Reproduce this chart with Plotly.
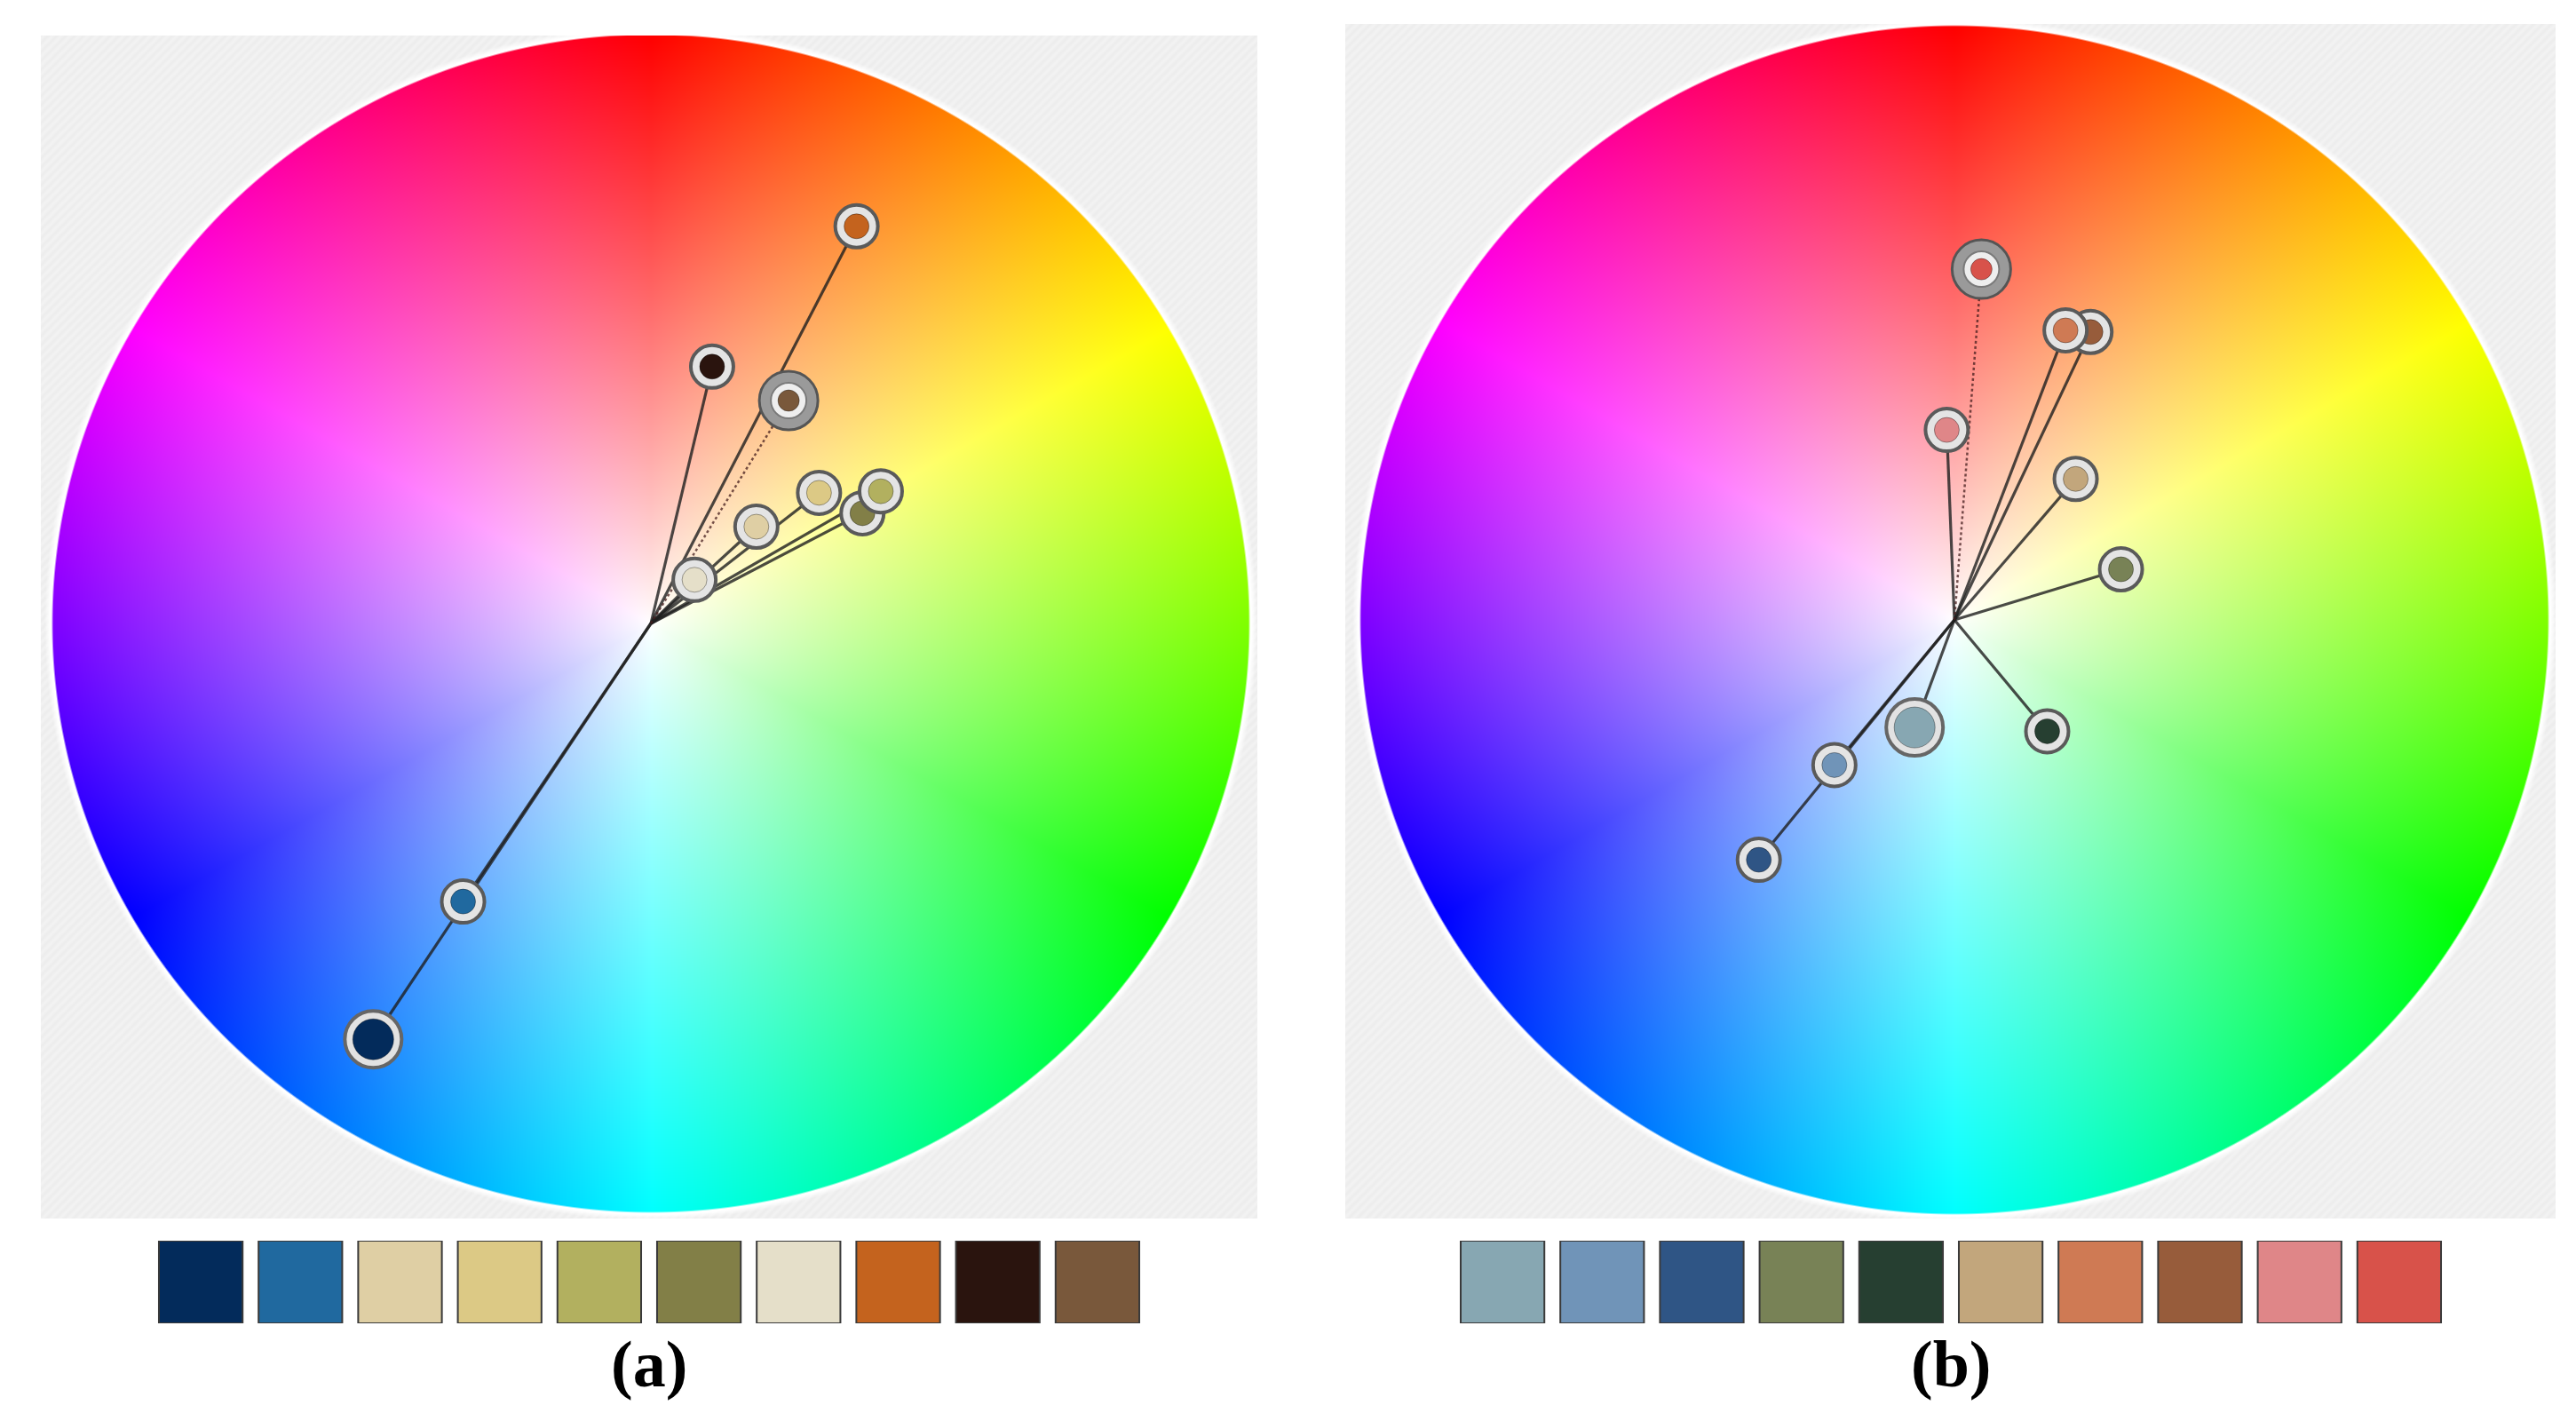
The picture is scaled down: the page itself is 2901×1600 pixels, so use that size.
import base64
import struct
import zlib

import numpy as np
import plotly.graph_objects as go

# ---------------- data ----------------
# hue = angle clockwise from the top (deg), sat = distance from centre (wheel radius = 1)

# panel (a)
colors_a = ['#032b5b', '#20699f', '#dfcfa4', '#dcc985', '#b2b05f',
            '#827f47', '#e5dfc9', '#c4631e', '#2a140e', '#79583b']
hue_a = [213.3, 213.6, 47.0, 51.7, 59.7, 62.1, 44.5, 27.0, 13.2, 31.3]
sat_a = [0.845, 0.567, 0.241, 0.358, 0.445, 0.400, 0.104, 0.757, 0.448, 0.443]

# panel (b)
colors_b = ['#87a7b2', '#7094b8', '#2f5585', '#788256', '#263f31',
            '#c2a67c', '#cf7a54', '#975c3b', '#df8688', '#d8524a']
hue_b = [200.3, 219.6, 219.2, 73.1, 140.2, 40.7, 21.0, 25.3, 357.7, 4.4]
sat_b = [0.193, 0.317, 0.521, 0.293, 0.244, 0.313, 0.522, 0.536, 0.320, 0.592]

labels = ['(a)', '(b)']

# which point gets the dotted spoke, and which markers are drawn big
dotted = [9, 9]
big = [{0: 'solid', 9: 'ring'}, {0: 'solid', 9: 'ring'}]

# the page body has an 8px margin, so the figure is drawn 8px in from the corner
OFF = 8
W, H = 2901 - 2 * OFF, 1600 - 2 * OFF

# pixel geometry (page pixels) of the two panels: gray box, wheel centre and radii, swatch row centre
panels = [
    dict(box=(46, 40, 1416, 1372), center=(733, 702), rx=674, ry=663, cx=731),
    dict(box=(1515, 27, 2878, 1372), center=(2201, 698), rx=669, ry=669, cx=2197),
]
swatch_top, swatch_bottom, swatch_pitch = 1397, 1490, 112.2


def fx(p):
    return (p - OFF) / W


def fy(p):
    return 1 - (p - OFF) / H


######################## wheel picture ########################

def png_uri(rgb):
    h, w, _ = rgb.shape
    raw = rgb.astype(np.int16)
    up = raw.copy()
    up[1:] = raw[1:] - raw[:-1]
    up = (up % 256).astype(np.uint8)
    rows = np.concatenate([np.full((h, 1), 2, np.uint8), up.reshape(h, w * 3)], axis=1)

    def chunk(tag, payload):
        return (struct.pack('>I', len(payload)) + tag + payload +
                struct.pack('>I', zlib.crc32(tag + payload) & 0xffffffff))

    png = (b'\x89PNG\r\n\x1a\n' +
           chunk(b'IHDR', struct.pack('>IIBBBBB', w, h, 8, 2, 0, 0, 0)) +
           chunk(b'IDAT', zlib.compress(rows.tobytes(), 9)) +
           chunk(b'IEND', b''))
    return 'data:image/png;base64,' + base64.b64encode(png).decode()


def wheel_image(xr, yr, w, h):
    px = (xr[1] - xr[0]) / w
    xs = xr[0] + (np.arange(w) + 0.5) * px
    ys = yr[1] - (np.arange(h) + 0.5) * (yr[1] - yr[0]) / h
    X, Y = np.meshgrid(xs, ys)
    R = np.hypot(X, Y)

    # hsv wheel, value = 1
    hh = (np.degrees(np.arctan2(X, Y)) % 360) / 60.0
    s = np.clip(R, 0, 1) ** 0.88
    i = np.floor(hh).astype(int) % 6
    f = hh - np.floor(hh)
    p = 1 - s
    q = 1 - s * f
    t = 1 - s * (1 - f)
    one = np.ones_like(s)
    r = np.choose(i, [one, q, p, p, t, one])
    g = np.choose(i, [t, one, one, q, p, p])
    b = np.choose(i, [p, p, t, one, one, q])
    wheel = np.stack([r, g, b], axis=-1) * 255

    # light gray card with faint diagonal stripes
    cols, rows = np.meshgrid(np.arange(w), np.arange(h))
    bg = 240 + 2.5 * np.sin(2 * np.pi * (cols + rows) / 10.0)
    bg = np.repeat(bg[..., None], 3, axis=-1)

    # white halo round the rim
    halo = np.clip((1.013 - R) / (6 * px), 0, 1)[..., None]
    img = bg * (1 - halo) + 255 * halo
    inside = np.clip((1 - R) / (2 * px) + 0.5, 0, 1)[..., None]
    img = img * (1 - inside) + wheel * inside
    return np.clip(img, 0, 255).astype(np.uint8)


######################## figure ########################

fig = go.Figure()
layout = dict(
    width=W, height=H,
    margin=dict(l=0, r=0, t=0, b=0),
    paper_bgcolor='white', plot_bgcolor='white',
    showlegend=False,
    images=[], annotations=[],
)

data = [(colors_a, hue_a, sat_a), (colors_b, hue_b, sat_b)]

for k, (cols, hues, sats) in enumerate(data):
    pan = panels[k]
    x0, y0, x1, y1 = pan['box']
    cx, cy = pan['center']
    xr = [(x0 - cx) / pan['rx'], (x1 - cx) / pan['rx']]
    yr = [-(y1 - cy) / pan['ry'], (cy - y0) / pan['ry']]

    nx = 2 * k + 1
    ny = 2 * k + 2
    xa, ya = 'x%d' % nx, 'y%d' % nx
    xb, yb = 'x%d' % ny, 'y%d' % ny
    layout['xaxis%d' % nx] = dict(domain=[fx(x0), fx(x1)], range=xr, visible=False,
                                  fixedrange=True, anchor=ya)
    layout['yaxis%d' % nx] = dict(domain=[fy(y1), fy(y0)], range=yr, visible=False,
                                  fixedrange=True, anchor=xa)

    # wheel + card as a background picture on the panel axes
    layout['images'].append(dict(
        source=png_uri(wheel_image(xr, yr, x1 - x0, y1 - y0)),
        xref=xa, yref=ya, x=xr[0], y=yr[1], sizex=xr[1] - xr[0], sizey=yr[1] - yr[0],
        xanchor='left', yanchor='top', sizing='stretch', layer='below'))

    ang = np.radians(hues)
    px = np.array(sats) * np.sin(ang)
    py = np.array(sats) * np.cos(ang)

    # spokes from the centre
    lx, ly = [], []
    for i in range(len(cols)):
        if i == dotted[k]:
            continue
        lx += [0, px[i], None]
        ly += [0, py[i], None]
    fig.add_trace(go.Scatter(x=lx, y=ly, mode='lines', xaxis=xa, yaxis=ya, hoverinfo='skip',
                             line=dict(color='rgba(30,30,30,0.8)', width=3.2)))
    d = dotted[k]
    fig.add_trace(go.Scatter(x=[0, px[d]], y=[0, py[d]], mode='lines', xaxis=xa, yaxis=ya,
                             hoverinfo='skip',
                             line=dict(color='rgba(70,30,30,0.75)', width=2.5, dash='dot')))

    # ringed markers, last colour at the bottom
    for i in reversed(range(len(cols))):
        kind = big[k].get(i, 'normal')
        if kind == 'ring':
            layers = [(66, '#9a9a9a', '#555555', 3), (40, '#eeeeee', '#7a7a7a', 2),
                      (24, cols[i], 'rgba(0,0,0,0.35)', 1)]
        elif kind == 'solid':
            layers = [(64, '#e2e2e2', '#666666', 4), (46, cols[i], 'rgba(0,0,0,0.35)', 1)]
        else:
            layers = [(48, '#e4e4e4', '#5a5a5a', 4), (28, cols[i], 'rgba(0,0,0,0.35)', 1)]
        for size, fill, edge, lw in layers:
            fig.add_trace(go.Scatter(x=[px[i]], y=[py[i]], mode='markers', xaxis=xa, yaxis=ya,
                                     hoverinfo='skip',
                                     marker=dict(size=size, color=fill,
                                                 line=dict(color=edge, width=lw))))

    # swatch row
    sx0 = pan['cx'] - 5 * swatch_pitch
    sx1 = pan['cx'] + 5 * swatch_pitch
    layout['xaxis%d' % ny] = dict(domain=[fx(sx0), fx(sx1)], range=[-0.5, len(cols) - 0.5],
                                  visible=False, fixedrange=True, anchor=yb)
    layout['yaxis%d' % ny] = dict(domain=[fy(swatch_bottom), fy(swatch_top)],
                                  range=[0, 1], visible=False, fixedrange=True, anchor=xb)
    fig.add_trace(go.Bar(x=list(range(len(cols))), y=np.ones(len(cols)), width=0.84,
                         xaxis=xb, yaxis=yb, hoverinfo='skip',
                         marker=dict(color=cols, line=dict(color='#3a3a3a', width=2))))

    layout['annotations'].append(dict(
        text='<b>%s</b>' % labels[k], xref='paper', yref='paper',
        x=fx(pan['cx']), y=fy(1536), xanchor='center', yanchor='middle',
        showarrow=False, font=dict(family='Liberation Serif', size=74, color='black')))

fig.update_layout(**layout)
fig.write_html("out.html")
